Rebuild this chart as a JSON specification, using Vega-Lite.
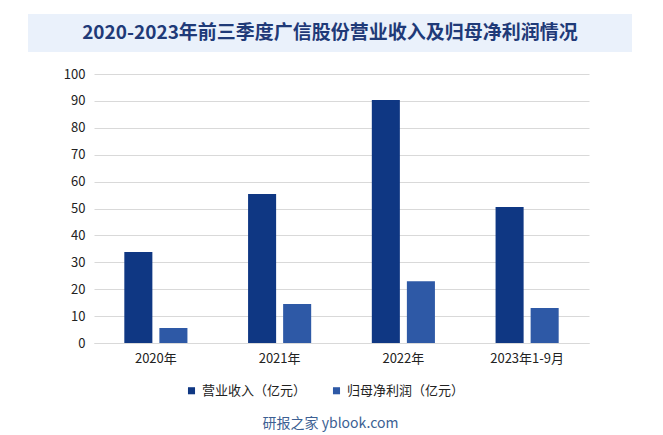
{
  "$schema": "https://vega.github.io/schema/vega-lite/v6.json",
  "padding": {"left": 28, "top": 14, "right": 31, "bottom": 4},
  "background": "white",
  "spacing": 16,
  "resolve": {"legend": {"color": "independent"}},
  "config": {"font": "Noto Sans CJK SC", "view": {"stroke": null}},
  "vconcat": [
    {
      "width": 604,
      "height": 38,
      "view": {"fill": "#EAF1FB", "stroke": null},
      "data": {"values": [{"title": "2020-2023年前三季度广信股份营业收入及归母净利润情况"}]},
      "mark": {"type": "text", "font": "Noto Sans CJK SC", "fontWeight": "bold", "fontSize": 19, "color": "#1F3A78"},
      "encoding": {"text": {"field": "title"}}
    },
    {
      "resolve": {"legend": {"color": "independent"}},
      "spacing": 0,
      "hconcat": [
        {
          "width": 1,
          "height": 1,
          "data": {"values": [{"blank": ""}]},
          "mark": {"type": "text"},
          "encoding": {"text": {"field": "blank"}}
        },
        {
          "width": 495,
          "height": 269,
          "data": {
            "values": [
              {"period": "2020年", "series": "营业收入（亿元）", "value": 33.8},
              {"period": "2020年", "series": "归母净利润（亿元）", "value": 5.6},
              {"period": "2021年", "series": "营业收入（亿元）", "value": 55.4},
              {"period": "2021年", "series": "归母净利润（亿元）", "value": 14.5},
              {"period": "2022年", "series": "营业收入（亿元）", "value": 90.3},
              {"period": "2022年", "series": "归母净利润（亿元）", "value": 23.0},
              {"period": "2023年1-9月", "series": "营业收入（亿元）", "value": 50.6},
              {"period": "2023年1-9月", "series": "归母净利润（亿元）", "value": 13.0}
            ]
          },
          "mark": {"type": "bar"},
          "encoding": {
            "x": {
              "field": "period", "type": "nominal", "sort": null,
              "scale": {"paddingInner": 0.49, "paddingOuter": 0.245},
              "axis": {"title": null, "labelAngle": 0, "ticks": false, "domain": true, "domainColor": "#D9D9D9", "labelFontSize": 13, "labelColor": "#222222", "labelPadding": 9, "labelFont": "Noto Sans CJK SC"}
            },
            "xOffset": {"field": "series", "sort": null, "scale": {"paddingInner": 0.2, "paddingOuter": 0}},
            "y": {
              "field": "value", "type": "quantitative",
              "scale": {"domain": [0, 100]},
              "axis": {"title": null, "values": [0, 10, 20, 30, 40, 50, 60, 70, 80, 90, 100], "domain": false, "ticks": false, "gridColor": "#D9D9D9", "labelFontSize": 13, "labelColor": "#222222", "labelPadding": 9, "minExtent": 65, "labelFont": "Noto Sans CJK SC"}
            },
            "color": {
              "field": "series", "type": "nominal", "sort": null,
              "scale": {"range": ["#0F3783", "#2E59A6"]},
              "legend": {"orient": "none", "legendX": 91, "legendY": 310, "direction": "horizontal", "title": null, "symbolType": "square", "labelFontSize": 13, "labelColor": "#222222", "symbolSize": 50, "columnPadding": 23, "labelFont": "Noto Sans CJK SC"}
            }
          },
          "title": {"text": "研报之家 yblook.com", "orient": "bottom", "fontSize": 14, "fontWeight": "normal", "color": "#3C5F93", "offset": 19, "dx": -11, "font": "Noto Sans CJK SC"}
        }
      ]
    }
  ]
}
